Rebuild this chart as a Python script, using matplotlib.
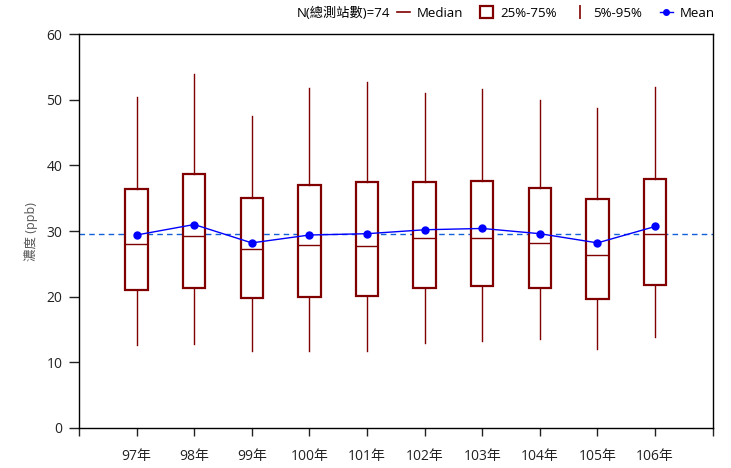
import matplotlib
matplotlib.use("Agg")
import matplotlib.pyplot as plt
from matplotlib.lines import Line2D
from matplotlib.patches import Patch

plt.rcParams['font.family'] = ['Open Sans', 'Noto Sans CJK TC', 'DejaVu Sans']

categories = ["97年", "98年", "99年", "100年", "101年", "102年", "103年", "104年", "105年", "106年"]
p5 = [12.7, 12.8, 11.8, 11.8, 11.8, 12.9, 13.3, 13.5, 12.1, 13.8]
p25 = [21.0, 21.4, 19.8, 19.9, 20.1, 21.3, 21.6, 21.4, 19.7, 21.8]
median = [28.0, 29.2, 27.2, 27.9, 27.7, 28.9, 29.0, 28.2, 26.4, 29.5]
p75 = [36.4, 38.7, 35.1, 37.0, 37.5, 37.5, 37.6, 36.6, 34.9, 38.0]
p95 = [50.4, 54.0, 47.5, 51.8, 52.7, 51.1, 51.6, 50.0, 48.8, 51.9]
mean = [29.4, 31.0, 28.2, 29.4, 29.6, 30.2, 30.4, 29.6, 28.2, 30.7]
overall_mean = 29.5
n_stations = 74

dark_red = "#800000"

fig = plt.figure(figsize=(7.31, 4.68), dpi=100)
ax = fig.add_axes([0.108, 0.0855, 0.867, 0.8415])

stats = []
for i in range(len(categories)):
    stats.append(dict(med=median[i], q1=p25[i], q3=p75[i], whislo=p5[i], whishi=p95[i], label=categories[i]))
positions = list(range(1, len(categories) + 1))
ax.bxp(stats, positions=positions, widths=0.39, showfliers=False, showcaps=False,
       patch_artist=True,
       boxprops=dict(facecolor="white", edgecolor=dark_red, linewidth=1.6),
       medianprops=dict(color=dark_red, linewidth=1.0),
       whiskerprops=dict(color=dark_red, linewidth=1.0))

ax.plot(positions, mean, color="#0000FF", linewidth=1.0, marker="o", markersize=5, zorder=5)
ax.axhline(overall_mean, color="#1060D8", linestyle=(0, (4, 3)), linewidth=1.0, zorder=1)

ax.set_xlim(0, len(categories) + 1)
ax.set_ylim(0, 60)
ax.set_yticks(range(0, 61, 10))
ax.set_xticks(range(0, len(categories) + 2))
ax.set_xticklabels([""] + categories + [""])
ax.tick_params(axis="y", direction="out", length=7, width=1, pad=5, labelsize=10, colors="#222222")
ax.tick_params(axis="x", direction="out", length=6, width=1, pad=9, labelsize=10, colors="#222222")
for sp in ax.spines.values():
    sp.set_linewidth(1.0)
ax.set_ylabel("濃度 (ppb)", fontsize=9, color="#555555", labelpad=6)

handles = [
    Line2D([0], [0], color=dark_red, linewidth=1.2),
    Patch(facecolor="white", edgecolor=dark_red, linewidth=1.6),
    Line2D([0], [0], color=dark_red, linestyle="none", marker="|", markersize=10, markeredgewidth=1.2),
    Line2D([0], [0], color="#0000FF", linewidth=1.0, marker="o", markersize=4),
]
labels = ["Median", "25%-75%", "5%-95%", "Mean"]
leg = fig.legend(handles, labels, loc="center right", bbox_to_anchor=(0.99, 0.972), ncol=4,
                 frameon=False, fontsize=9.5, handlelength=1.0, handletextpad=0.5, columnspacing=1.3,
                 handleheight=1.0, borderpad=0.2)

fig.canvas.draw()
bb = leg.get_window_extent().transformed(fig.transFigure.inverted())
fig.text(bb.x0 - 0.006, 0.972, f"N(總測站數)={n_stations}", fontsize=9.5, ha="right", va="center")

fig.savefig("out.png", dpi=100)
